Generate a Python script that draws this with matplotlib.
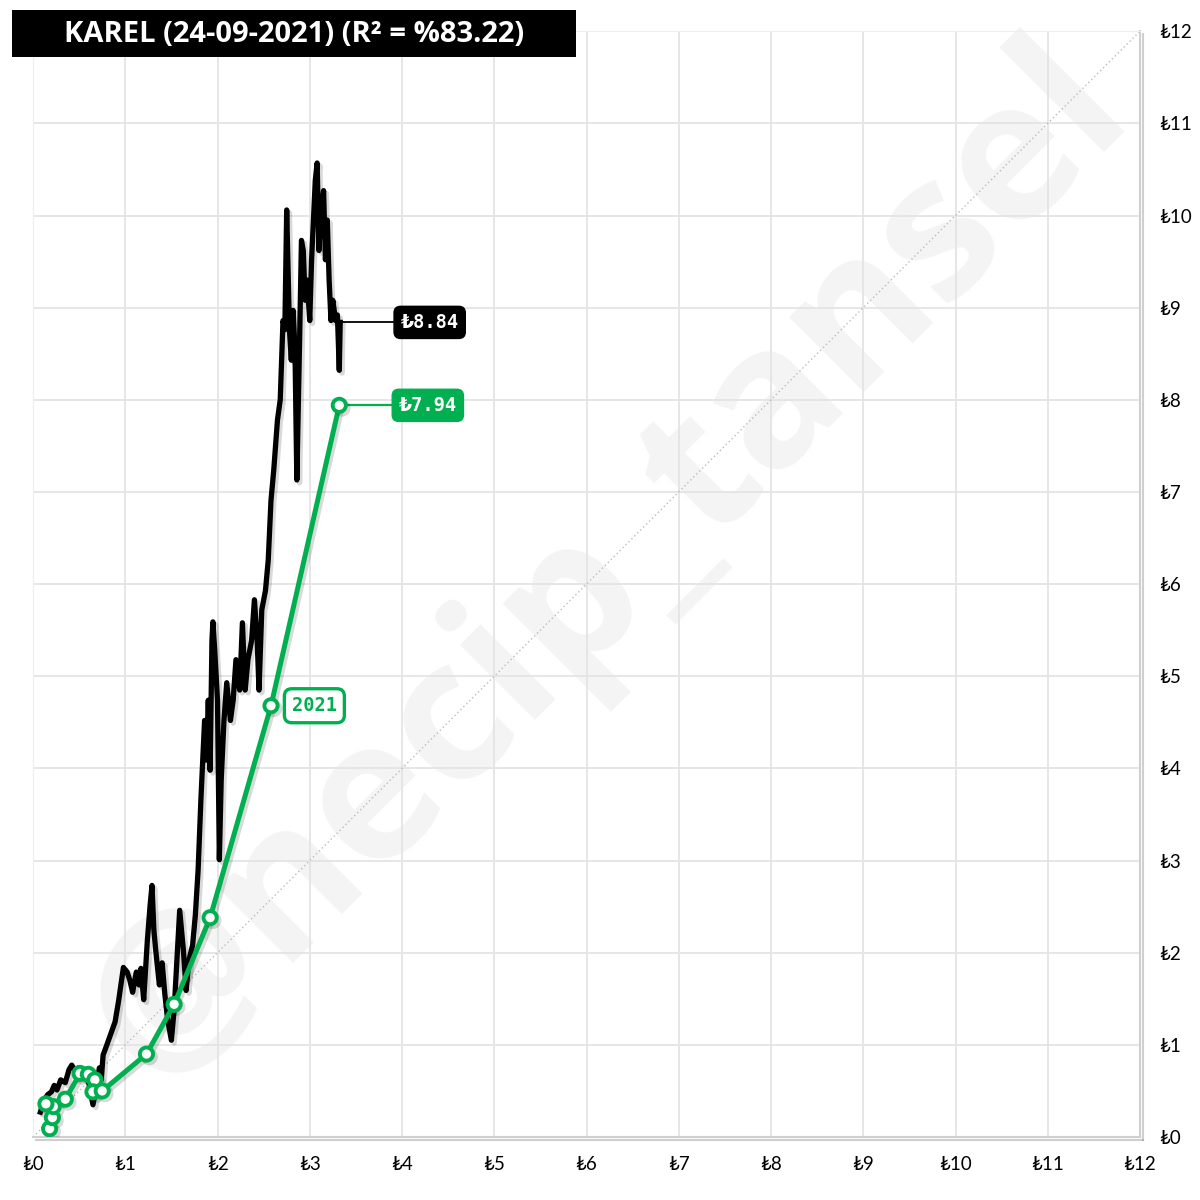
import matplotlib
matplotlib.use('Agg')
import matplotlib.pyplot as plt
import matplotlib.patheffects as pe
from matplotlib.patches import Rectangle

plt.rcParams['font.family'] = ['Lato', 'DejaVu Sans']

# Actual price (y) vs. model value (x)
price_x = [0.08, 0.12, 0.16, 0.20, 0.23, 0.26, 0.30, 0.35, 0.39, 0.42, 0.46, 0.49, 0.53, 0.58,
           0.61, 0.65, 0.68, 0.72, 0.74, 0.76, 0.79, 0.84, 0.89, 0.93, 0.98, 1.02, 1.05, 1.08,
           1.12, 1.15, 1.17, 1.20, 1.24, 1.27, 1.29, 1.31, 1.33, 1.37, 1.40, 1.43, 1.46, 1.50,
           1.53, 1.56, 1.59, 1.63, 1.66, 1.69, 1.73, 1.76, 1.79, 1.82, 1.86, 1.88, 1.90, 1.92,
           1.94, 1.95, 1.97, 2.00, 2.02, 2.04, 2.07, 2.10, 2.14, 2.17, 2.20, 2.24, 2.27, 2.30,
           2.33, 2.37, 2.40, 2.43, 2.45, 2.48, 2.52, 2.55, 2.58, 2.61, 2.65, 2.68, 2.71, 2.73,
           2.75, 2.78, 2.80, 2.82, 2.84, 2.86, 2.89, 2.91, 2.93, 2.95, 2.97, 3.00, 3.02, 3.04,
           3.06, 3.08, 3.10, 3.12, 3.15, 3.17, 3.19, 3.21, 3.23, 3.25, 3.28, 3.30, 3.32, 3.33]
price_y = [0.27, 0.40, 0.46, 0.49, 0.56, 0.51, 0.62, 0.59, 0.73, 0.78, 0.71, 0.75, 0.64, 0.71,
           0.56, 0.35, 0.51, 0.75, 0.62, 0.89, 0.97, 1.11, 1.25, 1.49, 1.84, 1.79, 1.70, 1.57,
           1.79, 1.65, 1.83, 1.49, 2.14, 2.52, 2.73, 2.25, 2.03, 1.65, 1.89, 1.54, 1.27, 1.05,
           1.38, 1.92, 2.46, 2.03, 1.59, 1.92, 2.08, 2.41, 2.90, 3.66, 4.52, 4.09, 4.74, 3.98,
           5.39, 5.59, 5.28, 4.74, 3.01, 3.87, 4.52, 4.93, 4.52, 4.74, 5.18, 4.85, 5.58, 4.85,
           5.18, 5.39, 5.83, 5.39, 4.85, 5.72, 5.93, 6.26, 6.91, 7.24, 7.78, 8.00, 8.86, 8.76,
           10.06, 8.76, 8.43, 8.97, 8.54, 7.13, 8.65, 9.73, 9.62, 9.08, 9.30, 8.86, 9.52, 9.95,
           10.38, 10.57, 9.62, 10.06, 10.27, 9.52, 9.95, 9.30, 8.86, 9.08, 8.86, 8.92, 8.32, 8.84]

# Yearly fitted points
fit_x = [0.18, 0.21, 0.22, 0.14, 0.35, 0.51, 0.60, 0.67, 0.65, 0.75, 1.23, 1.53, 1.92, 2.58, 3.32]
fit_y = [0.09, 0.21, 0.33, 0.36, 0.41, 0.69, 0.68, 0.62, 0.49, 0.50, 0.90, 1.44, 2.38, 4.68, 7.94]

ticks = list(range(0, 13))
tick_labels = ['₺' + str(t) for t in ticks]

last_price = 8.84
last_fit = 7.94
year_label = '2021'
title = 'KAREL (24-09-2021) (R² = %83.22)'

green = '#00b050'

fig = plt.figure(figsize=(12, 12), dpi=100)
ax = fig.add_axes([0.0275, 0.0525, 0.9225, 0.9215])

# watermark
ax.text(6.25, 6.2, '@necip_tansel', fontsize=140, fontweight='bold', color='#f4f4f4',
        rotation=45, ha='center', va='center', zorder=0.1,
        family=['Open Sans', 'DejaVu Sans'])

ax.set_xlim(0, 12)
ax.set_ylim(0, 12)
ax.set_xticks(ticks)
ax.set_yticks(ticks)
ax.set_xticklabels(tick_labels)
ax.set_yticklabels(tick_labels)
ax.yaxis.tick_right()
ax.tick_params(axis='both', length=0, labelsize=13.5, colors='black')
ax.tick_params(axis='x', pad=14)
ax.tick_params(axis='y', pad=14)
ax.grid(True, color='#e4e4e4', linewidth=1.3)
ax.set_axisbelow(True)

for side in ['top', 'left']:
    ax.spines[side].set_color('#eeeeee')
for side in ['right', 'bottom']:
    ax.spines[side].set_color('#d0d0d0')
    ax.spines[side].set_linewidth(1.5)
    ax.spines[side].set_path_effects([pe.SimpleLineShadow(offset=(2, -2), alpha=0.35, shadow_color='#777777'),
                                      pe.Normal()])

# y = x reference
ax.plot([0, 12], [0, 12], color='#bbbbbb', linestyle=(0, (1, 2)), linewidth=1, zorder=1)

shadow = [pe.SimpleLineShadow(offset=(2, -2), alpha=0.15), pe.Normal()]

ax.plot(price_x, price_y, color='black', linewidth=3.8, solid_joinstyle='round',
        zorder=3, path_effects=shadow)
ax.plot(fit_x, fit_y, color=green, linewidth=3.6, solid_joinstyle='round',
        marker='o', markersize=9.5, markerfacecolor='white', markeredgecolor=green,
        markeredgewidth=2.8, zorder=4, path_effects=shadow)

# end value labels
ax.plot([price_x[-1], 3.9], [last_price, last_price], color='black', linewidth=1.3, zorder=2)
ax.text(4.3, last_price, '₺%.2f' % last_price, ha='center', va='center', fontsize=13.5,
        fontweight='bold', color='white', family=['DejaVu Sans Mono', 'DejaVu Sans'], zorder=5,
        bbox=dict(boxstyle='round,pad=0.35', fc='black', ec='black'))
ax.plot([fit_x[-1], 3.9], [last_fit, last_fit], color=green, linewidth=1.6, zorder=2)
ax.text(4.28, last_fit, '₺%.2f' % last_fit, ha='center', va='center', fontsize=13.5,
        fontweight='bold', color='white', family=['DejaVu Sans Mono', 'DejaVu Sans'], zorder=5,
        bbox=dict(boxstyle='round,pad=0.35', fc=green, ec=green))

# year label
ax.text(3.05, fit_y[-2], year_label, ha='center', va='center', fontsize=13.5,
        fontweight='bold', color=green, family=['DejaVu Sans Mono', 'DejaVu Sans'], zorder=5,
        bbox=dict(boxstyle='round,pad=0.4', fc='white', ec=green, lw=2.4))

# title box
fig.patches.append(Rectangle((0.01, 1 - 57 / 1200), 0.47, 47 / 1200, transform=fig.transFigure,
                             facecolor='black', edgecolor='none', zorder=10))
fig.text(0.245, 1 - 34 / 1200, title, ha='center', va='center', color='white',
         fontsize=21, fontweight='bold', zorder=11, family=['Open Sans', 'DejaVu Sans'])

fig.savefig('out.png', dpi=100, facecolor='white')
